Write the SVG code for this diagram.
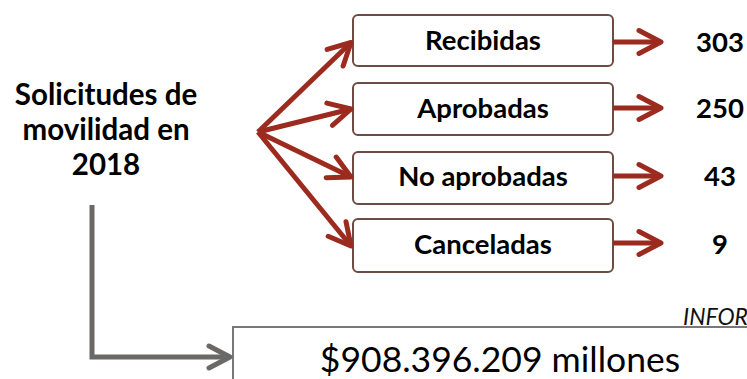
<svg xmlns="http://www.w3.org/2000/svg" width="747" height="379" viewBox="0 0 747 379">
<style>
.lbl{font-family:Lato,"Open Sans","Liberation Sans",sans-serif;font-weight:bold;font-size:27.5px;fill:#000;text-anchor:middle}
.ttl{font-size:29.5px}
.box{fill:#fff;stroke:#6e4b43;stroke-width:2}
.red{stroke:#9c2b1f;stroke-width:5;fill:none}
.gray{stroke:#6b6868;stroke-width:5;fill:none}
</style>
<defs>
<marker id="ah" markerUnits="userSpaceOnUse" orient="auto" markerWidth="40" markerHeight="40" refX="0" refY="0" viewBox="-30 -20 40 40" overflow="visible">
<path d="M-22,-11.5 L0,0 L-22,11.5" fill="none" stroke="#9c2b1f" stroke-width="5" stroke-linecap="round" stroke-linejoin="round"/>
</marker>
<marker id="ag" markerUnits="userSpaceOnUse" orient="auto" markerWidth="40" markerHeight="40" refX="0" refY="0" viewBox="-30 -20 40 40" overflow="visible">
<path d="M-21,-11 L0,0 L-21,11" fill="none" stroke="#6b6868" stroke-width="5" stroke-linecap="round" stroke-linejoin="round"/>
</marker>
</defs>
<rect width="747" height="379" fill="#fff"/>
<g id="title">
<text class="lbl ttl" x="106" y="105">Solicitudes de</text>
<text class="lbl ttl" x="106" y="140">movilidad en</text>
<text class="lbl ttl" x="106" y="175">2018</text>
</g>
<g id="total">
<rect x="233" y="327" width="540" height="80" fill="#fff" stroke="#7a7777" stroke-width="2"/>
<text x="500" y="372" font-family="Lato,'Open Sans','Liberation Sans',sans-serif" font-size="35.5" text-anchor="middle" fill="#000">$908.396.209 millones</text>
</g>
<g id="info">
<text x="683" y="325" font-family="Lato,'Open Sans','Liberation Sans',sans-serif" font-style="italic" font-size="23" fill="#111">INFOR</text>
</g>
<g id="recibidas">
<rect class="box" x="353" y="15" width="260" height="51" rx="5"/>
<text class="lbl" x="483" y="50">Recibidas</text>
</g>
<g id="aprobadas">
<rect class="box" x="353" y="83" width="260" height="52" rx="5"/>
<text class="lbl" x="483" y="118">Aprobadas</text>
</g>
<g id="noaprobadas">
<rect class="box" x="353" y="152" width="260" height="52" rx="5"/>
<text class="lbl" x="483" y="186">No aprobadas</text>
</g>
<g id="canceladas">
<rect class="box" x="353" y="219" width="260" height="53" rx="5"/>
<text class="lbl" x="483" y="254">Canceladas</text>
</g>
<g id="v303"><text class="lbl" x="720" y="52">303</text></g>
<g id="v250"><text class="lbl" x="720" y="118">250</text></g>
<g id="v43"><text class="lbl" x="720" y="186">43</text></g>
<g id="v9"><text class="lbl" x="720" y="254">9</text></g>
<g id="connectors">
<line class="red" x1="258" y1="132" x2="351" y2="42.5" marker-end="url(#ah)"/>
<line class="red" x1="258" y1="132" x2="351" y2="109" marker-end="url(#ah)"/>
<line class="red" x1="258" y1="132" x2="351" y2="177" marker-end="url(#ah)"/>
<line class="red" x1="258" y1="132" x2="351" y2="246" marker-end="url(#ah)"/>
<line class="red" x1="613" y1="42" x2="661" y2="42" marker-end="url(#ah)"/>
<line class="red" x1="613" y1="108" x2="661" y2="108" marker-end="url(#ah)"/>
<line class="red" x1="613" y1="176" x2="661" y2="176" marker-end="url(#ah)"/>
<line class="red" x1="613" y1="243" x2="661" y2="243" marker-end="url(#ah)"/>
<polyline class="gray" points="92,205 92,357 230,357" marker-end="url(#ag)"/>
</g>
</svg>
